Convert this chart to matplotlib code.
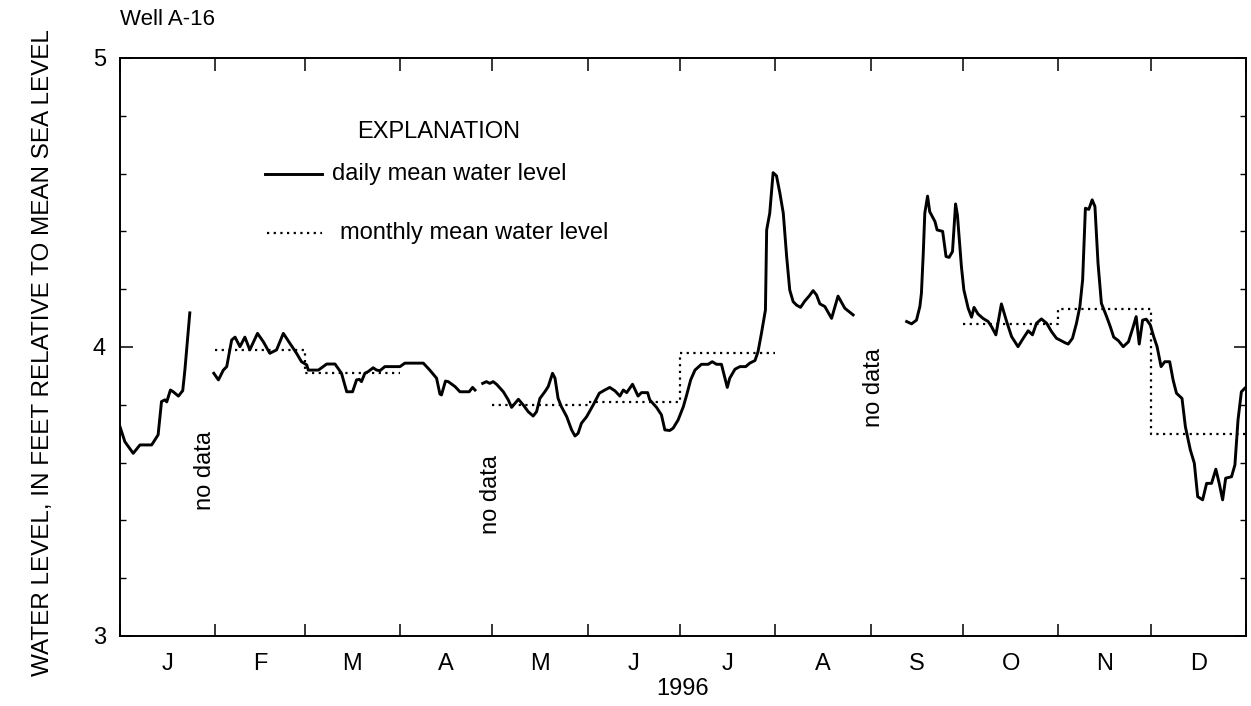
import numpy as np
import matplotlib
matplotlib.use("Agg")
import matplotlib.pyplot as plt

plt.rcParams['font.family'] = ['Liberation Sans', 'DejaVu Sans']

# day of year (0 = Jan 1 1996) and daily mean water level, ft
dias_ene = [0, 1.6, 4.3, 6.5, 10.3, 12.4, 13.5, 14.6, 15.2, 16.4, 17.3, 19, 20.4, 21.1, 22.7]
nivel_ene = [3.724, 3.672, 3.632, 3.661, 3.661, 3.696, 3.811, 3.817, 3.81, 3.851, 3.845, 3.83, 3.849, 3.92, 4.118]

dias_feb = [30.5, 32, 33.6, 34.7, 36.3, 37.4, 39, 40.6, 42.2, 44.7,
            46.6, 48.7, 50.9, 53.1, 55.2, 57.4, 59, 60.7, 61.2, 64.5,
            67.2, 69.9, 72, 73.7, 75.6, 76.9, 77.8, 78.5, 79.6, 80.7,
            82.3, 83.4, 84.5, 86.1, 91, 92.6, 98.6, 100.7, 102.9, 104,
            104.5, 105.8, 106.7, 108.9, 110.5, 113.5, 114.6, 115.4]
nivel_feb = [3.909, 3.886, 3.92, 3.932, 4.024, 4.034, 4.001, 4.034, 3.99, 4.047,
             4.018, 3.978, 3.99, 4.047, 4.013, 3.978, 3.949, 3.938, 3.92, 3.92,
             3.941, 3.941, 3.909, 3.845, 3.845, 3.886, 3.888, 3.88, 3.909, 3.915,
             3.928, 3.92, 3.918, 3.932, 3.932, 3.944, 3.944, 3.92, 3.892, 3.837,
             3.834, 3.882, 3.88, 3.863, 3.845, 3.845, 3.86, 3.851]

dias_may = [117.9, 119.1, 120.2, 121.3, 122.4, 124.6, 126.2, 127.3, 129.5, 131.1,
            132.7, 134.3, 135.4, 136.5, 138.1, 139.2, 140.6, 141.4, 142.4, 143.5,
            145.2, 146.8, 147.9, 148.9, 150, 151.7, 153.8, 155.8, 157.6, 159.2,
            160.9, 162.5, 163.6, 164.7, 166.6, 168.4, 169.5, 171.5, 172.2, 174.4,
            176, 177.1, 178.7, 179.8, 181.4, 183.1, 184.2, 185.5, 186.9, 189,
            191.2, 192.5, 193.9, 195.5, 197.4, 198.2, 199.9, 201.5, 203.4, 204.7,
            206.4, 207.4, 208.5, 209.8, 210.2, 211.2, 212.3, 213.4, 214.5, 215.6,
            216.7, 217.7, 218.8, 219.9, 221.2, 222.6, 224, 225.3, 226.4, 227.5,
            229.1, 231.3, 233.4, 235.6, 238.3]
nivel_may = [3.874, 3.88, 3.874, 3.88, 3.871, 3.845, 3.817, 3.791, 3.819, 3.799,
             3.776, 3.761, 3.776, 3.822, 3.845, 3.863, 3.909, 3.892, 3.822, 3.793,
             3.759, 3.713, 3.692, 3.701, 3.736, 3.759, 3.799, 3.84, 3.851, 3.86,
             3.848, 3.83, 3.851, 3.842, 3.871, 3.83, 3.842, 3.842, 3.817, 3.791,
             3.765, 3.713, 3.711, 3.719, 3.747, 3.793, 3.834, 3.886, 3.92, 3.94,
             3.94, 3.949, 3.94, 3.94, 3.86, 3.892, 3.923, 3.932, 3.932, 3.944,
             3.953, 3.984, 4.047, 4.128, 4.405, 4.463, 4.603, 4.592, 4.532, 4.463,
             4.312, 4.197, 4.157, 4.145, 4.137, 4.159, 4.176, 4.195, 4.18, 4.149,
             4.14, 4.099, 4.176, 4.134, 4.111]

dias_sep = [255.7, 257.3, 258.9, 260, 260.5, 261.1, 261.6, 262.5, 263.2, 264.9,
            265.6, 267.4, 268.5, 269.5, 270.6, 271.6, 272.2, 273.5, 274.3, 275.7,
            276.8, 277.6, 278.9, 280.5, 282.2, 283.3, 284.7, 286.5, 288.2, 289.8,
            291.9, 293.6, 295.2, 296.6, 297.9, 299.5, 301.2, 302.8, 304.4, 305.5,
            307.1, 308.2, 309.6, 310.9, 312, 312.9, 313.8, 314.9, 316, 316.9,
            317.9, 319, 320.7, 321.9, 323, 324.5, 326.1, 327.8, 329.2, 330.3,
            331.3, 332.4, 333.6, 334.9, 336, 337.1, 338.4, 339.6, 341.2, 342.3,
            343.4, 345.2, 346.3, 347.9, 349.2, 350.3, 351.9, 353.2, 354.8, 356.2,
            357.3, 358.4, 359.4, 361.3, 362.4, 363.4, 364.5, 365.6]
nivel_sep = [4.088, 4.08, 4.093, 4.14, 4.186, 4.324, 4.463, 4.522, 4.468, 4.434,
             4.405, 4.40, 4.313, 4.31, 4.33, 4.495, 4.457, 4.278, 4.197, 4.134,
             4.103, 4.137, 4.114, 4.099, 4.088, 4.07, 4.042, 4.149, 4.088, 4.036,
             4.001, 4.03, 4.056, 4.042, 4.082, 4.097, 4.082, 4.053, 4.03, 4.024,
             4.015, 4.01, 4.03, 4.082, 4.14, 4.232, 4.48, 4.476, 4.509, 4.486,
             4.29, 4.151, 4.105, 4.07, 4.034, 4.022, 4.001, 4.018, 4.065, 4.105,
             4.01, 4.093, 4.096, 4.076, 4.036, 4.001, 3.932, 3.949, 3.949, 3.886,
             3.84, 3.822, 3.724, 3.644, 3.598, 3.482, 3.471, 3.528, 3.528, 3.577,
             3.528, 3.471, 3.546, 3.551, 3.592, 3.747, 3.845, 3.857]

dias_mes = [31, 29, 31, 30, 31, 30, 31, 31, 30, 31, 30, 31]
meses = ['J', 'F', 'M', 'A', 'M', 'J', 'J', 'A', 'S', 'O', 'N', 'D']
media_mensual = [np.nan, 3.99, 3.91, np.nan, 3.80, 3.81, 3.98, np.nan, np.nan, 4.08, 4.13, 3.70]

inicio_mes = np.concatenate([[0], np.cumsum(dias_mes)])
centro_mes = (inicio_mes[:-1] + inicio_mes[1:]) / 2

fig = plt.figure(figsize=(12.51, 7.06), dpi=100)
ax = fig.add_axes([0.0959, 0.0992, 0.9001, 0.8187])

for d, n in [(dias_ene, nivel_ene), (dias_feb, nivel_feb), (dias_may, nivel_may), (dias_sep, nivel_sep)]:
	ax.plot(d, n, color='black', lw=2.1, solid_joinstyle='round')

ax.plot(inicio_mes, list(media_mensual) + [media_mensual[-1]], drawstyle='steps-post',
	color='black', lw=1.6, linestyle=(0, (1, 2.0)))

ax.set_xlim(0, 366)
ax.set_ylim(3, 5)

ax.set_xticks(inicio_mes)
ax.set_xticklabels([])
ax.set_xticks(centro_mes, minor=True)
ax.set_xticklabels(meses, minor=True)
ax.set_yticks([3, 4, 5])
ax.set_yticks(np.arange(3, 5.01, 0.2), minor=True)

ax.tick_params(axis='x', which='major', direction='in', length=9, width=1.1, top=True, bottom=True)
ax.tick_params(axis='x', which='minor', length=0, pad=12, labelsize=17)
ax.tick_params(axis='y', which='major', direction='in', length=9, width=1.1, left=True, right=True, labelsize=17, pad=10)
ax.tick_params(axis='y', which='minor', direction='in', length=4, width=1.0, left=True, right=True)
for s in ax.spines.values():
	s.set_linewidth(1.4)

fig.text(0.034, 0.5, 'WATER LEVEL, IN FEET RELATIVE TO MEAN SEA LEVEL', rotation=90,
	ha='center', va='center', fontsize=17.5)
fig.text(0.096, 0.972, 'Well A-16', ha='left', va='center', fontsize=16)
fig.text(0.546, 0.024, '1996', ha='center', va='center', fontsize=17)

# explicacion
ax.text(0.211, 0.872, 'EXPLANATION', transform=ax.transAxes, ha='left', va='center', fontsize=17)
ax.plot([0.129, 0.179], [0.80, 0.80], transform=ax.transAxes, color='black', lw=2.1)
ax.text(0.188, 0.80, 'daily mean water level', transform=ax.transAxes, ha='left', va='center', fontsize=17)
ax.plot([0.131, 0.179], [0.698, 0.698], transform=ax.transAxes, color='black', lw=1.6, linestyle=(0, (1, 2.0)))
ax.text(0.195, 0.698, 'monthly mean water level', transform=ax.transAxes, ha='left', va='center', fontsize=17)

# huecos sin datos
ax.text(27.5, 3.574, 'no data', rotation=90, ha='center', va='center', fontsize=17)
ax.text(120.7, 3.488, 'no data', rotation=90, ha='center', va='center', fontsize=17)
ax.text(245, 3.86, 'no data', rotation=90, ha='center', va='center', fontsize=17)

fig.savefig('out.png', dpi=100)
